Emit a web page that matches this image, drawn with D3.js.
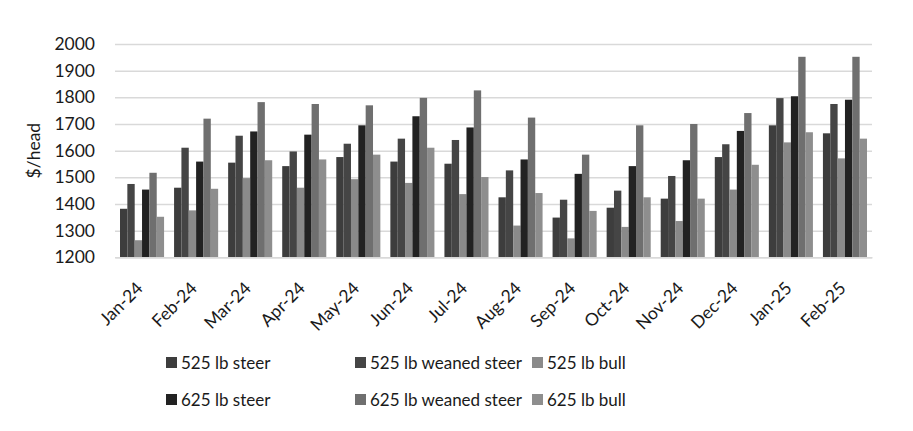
<!DOCTYPE html>
<html>
<head>
<meta charset="utf-8">
<script src="https://cdn.jsdelivr.net/npm/d3@7"></script>
<style>
  body { margin: 0; background: #fff; }
  text { font-family: Lato, "Open Sans", sans-serif; fill: #1a1a1a; }
</style>
</head>
<body>
<div id="chart"></div>
<script>
const months = ["Jan-24", "Feb-24", "Mar-24", "Apr-24", "May-24", "Jun-24", "Jul-24",
  "Aug-24", "Sep-24", "Oct-24", "Nov-24", "Dec-24", "Jan-25", "Feb-25"];
const seriesNames = ["525 lb steer", "525 lb weaned steer", "525 lb bull",
  "625 lb steer", "625 lb weaned steer", "625 lb bull"];

const steer525 = [1382, 1461, 1555, 1542, 1576, 1559, 1551, 1425, 1349, 1386, 1420, 1576, 1695, 1665];
const weaned525 = [1475, 1611, 1656, 1597, 1626, 1645, 1640, 1526, 1416, 1450, 1505, 1624, 1797, 1775];
const bull525 = [1264, 1376, 1497, 1461, 1493, 1479, 1437, 1319, 1271, 1314, 1336, 1454, 1631, 1571];
const steer625 = [1454, 1559, 1672, 1660, 1695, 1729, 1687, 1567, 1513, 1542, 1564, 1674, 1804, 1791];
const weaned625 = [1517, 1720, 1782, 1775, 1770, 1798, 1826, 1724, 1585, 1695, 1700, 1741, 1952, 1952];
const bull625 = [1352, 1457, 1564, 1567, 1585, 1611, 1501, 1441, 1374, 1425, 1420, 1547, 1669, 1645];

const yTicks = [1200, 1300, 1400, 1500, 1600, 1700, 1800, 1900, 2000];

const allSeries = [steer525, weaned525, bull525, steer625, weaned625, bull625];
const colors = ["#3d3d3d", "#454545", "#8a8a8a", "#222222", "#6f6f6f", "#8e8e8e"];

const width = 913, height = 431;
const fontSize = 17.5;

const svg = d3.select("#chart")
  .append("svg")
  .attr("width", width)
  .attr("height", height)
  .attr("viewBox", [0, 0, width, height]);

let x0 = d3.scaleBand()
  .domain(months)
  .range([115, 872])
  .paddingInner(0.185)
  .paddingOuter(0.0925);

let x1 = d3.scaleBand()
  .domain(d3.range(seriesNames.length))
  .range([0, x0.bandwidth()]);

let y = d3.scaleLinear()
  .domain([1200, 2000])
  .range([257.3, 44]);

// gridlines + y labels
let yAxis = g => g
  .attr("transform", "translate(115,0)")
  .call(d3.axisLeft(y).tickValues(yTicks).tickFormat(d3.format("d")).tickSize(0).tickPadding(20))
  .call(g => g.select(".domain").remove())
  .call(g => g.selectAll(".tick text")
    .attr("font-size", fontSize)
    .attr("font-family", "Lato, 'Open Sans', sans-serif")
    .attr("fill", "#1a1a1a"))
  .call(g => g.selectAll(".tick line").clone()
    .attr("x2", 872 - 115)
    .attr("stroke", "#d9d9d9")
    .attr("stroke-width", 1.5));

svg.append("g").call(yAxis);

svg.append("text")
  .attr("transform", `translate(40,${y(1600)}) rotate(-90)`)
  .attr("text-anchor", "middle")
  .attr("font-size", fontSize)
  .text("$/head");

// bars
const groups = svg.append("g")
  .selectAll("g")
  .data(months)
  .join("g")
  .attr("transform", d => `translate(${x0(d)},0)`);

groups.selectAll("rect")
  .data((m, i) => allSeries.map((s, k) => ({ k, v: s[i] })))
  .join("rect")
  .attr("x", d => x1(d.k))
  .attr("width", x1.bandwidth())
  .attr("y", d => y(d.v))
  .attr("height", d => y(1200) - y(d.v))
  .attr("fill", d => colors[d.k]);

// x axis
let xAxis = g => g
  .attr("transform", `translate(0,${y(1200)})`)
  .call(d3.axisBottom(x0).tickSize(0).tickPadding(0))
  .call(g => g.select(".domain").attr("stroke", "#d9d9d9").attr("stroke-width", 1.5))
  .call(g => g.selectAll(".tick text")
    .attr("font-size", fontSize)
    .attr("font-family", "Lato, 'Open Sans', sans-serif")
    .attr("fill", "#1a1a1a")
    .attr("text-anchor", "end")
    .attr("dy", 0)
    .attr("y", 0)
    .attr("transform", "translate(2,32) rotate(-45)"));

svg.append("g").call(xAxis);

// legend
const legendPos = [
  [166, 363], [355, 363], [532, 363],
  [166, 400], [355, 400], [532, 400]
];
const legend = svg.append("g")
  .selectAll("g")
  .data(d3.range(seriesNames.length))
  .join("g")
  .attr("transform", (d, i) => `translate(${legendPos[i][0]},${legendPos[i][1]})`);

legend.append("rect")
  .attr("x", 0)
  .attr("y", -6)
  .attr("width", 11)
  .attr("height", 11)
  .attr("fill", d => colors[d]);

legend.append("text")
  .attr("x", 15)
  .attr("y", 0)
  .attr("dy", "0.35em")
  .attr("font-size", 17)
  .text(d => seriesNames[d]);
</script>
</body>
</html>
